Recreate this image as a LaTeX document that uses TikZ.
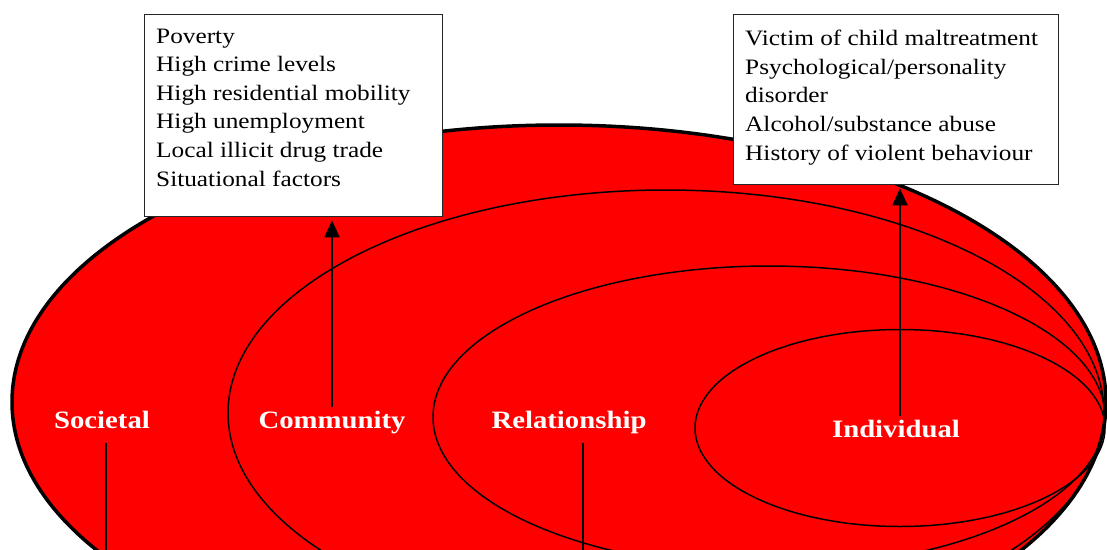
\documentclass[tikz,border=0pt]{standalone}
\usepackage{fontspec}
\setmainfont[FakeStretch=1.15]{Liberation Serif}
\usetikzlibrary{arrows.meta}
\begin{document}
\begin{tikzpicture}[x=1pt,y=-1pt,
  lvl/.style={line width=1.5pt},
  listtext/.style={anchor=north west,inner sep=0pt,align=left,font=\fontsize{22}{28.6}\selectfont},
  listbox/.style={draw=black!85,line width=1.3pt,fill=white,anchor=north west,inner sep=0pt},
  lbl/.style={text=white,font=\fontsize{25}{30}\selectfont\bfseries,anchor=base,inner sep=3pt},
  arr/.style={line width=1.8pt,-{Triangle[width=15pt,length=17pt]},shorten >=3pt},
  stem/.style={line width=1.8pt}]
\useasboundingbox (0,0) rectangle (1107,549);
\clip (0,0) rectangle (1107,549);
\fill[white] (0,0) rectangle (1107,549);
% nested ellipses
\draw[line width=3.5pt,fill=red] (559,402) ellipse [x radius=547, y radius=277];
\draw[lvl] (666,413) ellipse [x radius=438, y radius=223];
\draw[lvl] (769,417) ellipse [x radius=336, y radius=151];
\draw[lvl] (900,428) ellipse [x radius=205, y radius=98.5];
% labels
\node[lbl] (soc) at (102,428) {Societal};
\node[lbl] (com) at (332,428) {Community};
\node[lbl] (rel) at (569,428) {Relationship};
\node[lbl] (ind) at (896,437) {Individual};
% boxes
\node[listbox,minimum width=298pt,minimum height=202pt] (lbox) at (144,14) {};
\node[listtext] (ltext) at (156,28.5) {Poverty\\High crime levels\\High residential mobility\\High unemployment\\Local illicit drug trade\\Situational factors};
\node[listbox,minimum width=325pt,minimum height=170pt] (rbox) at (733,14) {};
\node[listtext] (rtext) at (745,30) {Victim of child maltreatment\\Psychological/personality\\disorder\\Alcohol/substance abuse\\History of violent behaviour};
% connectors
\coordinate (ia) at (900,0);
\draw[arr] (com.north) -- (com.north |- lbox.south);
\draw[arr] (ind.north -| ia) -- (rbox.south -| ia);
\coordinate (sb) at (106,560);
\coordinate (rb) at (583,560);
\draw[stem,shorten <=12pt] (soc.south -| sb) -- (sb);
\draw[stem,shorten <=6.5pt] (rel.south -| rb) -- (rb);
\end{tikzpicture}
\end{document}
